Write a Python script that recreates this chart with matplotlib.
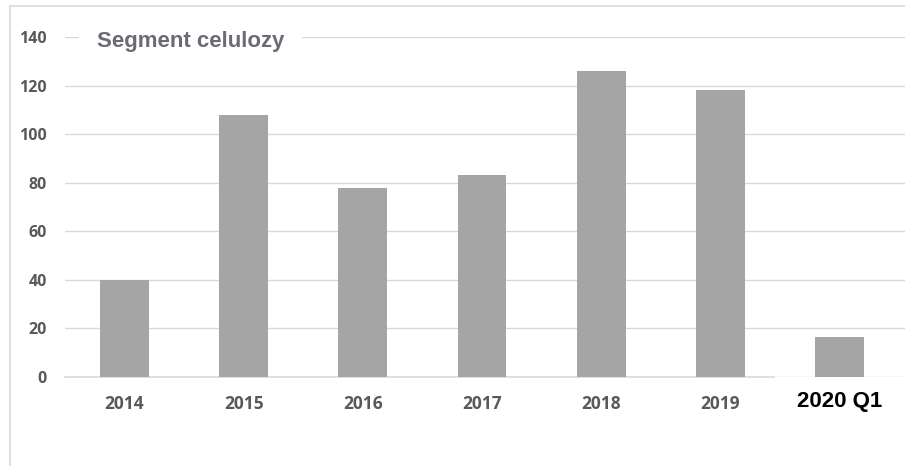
import matplotlib.pyplot as plt
from matplotlib.patches import Rectangle
import numpy as np

# data
years = ['2014', '2015', '2016', '2017', '2018', '2019', '2020 Q1']
values = [40, 108, 78, 83, 126, 118, 16.5]
yticks = [0, 20, 40, 60, 80, 100, 120, 140]

W, H = 905, 466
fig = plt.figure(figsize=(W / 100, H / 100), dpi=100)
fig.patch.set_facecolor('white')

# outer frame of the chart area (right and bottom edges lie outside the image)
fig.patches.append(Rectangle((10 / W, -0.1), 1.2, 1.1 - 6 / H, transform=fig.transFigure,
                             fill=False, edgecolor='#d9d9d9', linewidth=1.2))

# axes: x from 65px to 905px, y from 377px (0) to 37px (140)
ax = fig.add_axes([65 / W, 1 - 377 / H, 840 / W, 340 / H])
x = np.arange(len(years))
ax.bar(x, values, width=0.41, color='#a5a5a5', zorder=3)

ax.set_xlim(-0.5, 6.55)
ax.set_ylim(0, 140)
ax.yaxis.grid(True, color='#d9d9d9', linewidth=1.0, zorder=0)
for s in ax.spines.values():
    s.set_visible(False)
ax.tick_params(length=0)
ax.tick_params(axis='y', pad=13)
ax.tick_params(axis='x', pad=13)

# baseline only under the yearly bars
ax.plot([-0.5, 5.45], [0, 0], color='#d9d9d9', linewidth=1.2, zorder=2, clip_on=False)

ax.set_yticks(yticks)
ax.set_yticklabels([str(v) for v in yticks], fontfamily='Open Sans',
                   fontweight='bold', fontsize=11.5, color='#595959')
ax.set_xticks(x)
labs = ax.set_xticklabels(years, fontfamily='Open Sans', fontweight='bold',
                          fontsize=12.5, color='#595959')
last = labs[-1]
last.set_fontfamily('Liberation Sans')
last.set_fontsize(16)
last.set_color('black')
last.set_y(0.012)

# title over the top gridline
fig.text(97 / W, 1 - 41 / H, 'Segment celulozy', fontsize=16, fontweight='bold',
         family='Liberation Sans', color='#6b6b73', va='center', ha='left',
         bbox=dict(facecolor='white', edgecolor='none', boxstyle='square,pad=0.8'))

plt.savefig('out.png', dpi=100)
